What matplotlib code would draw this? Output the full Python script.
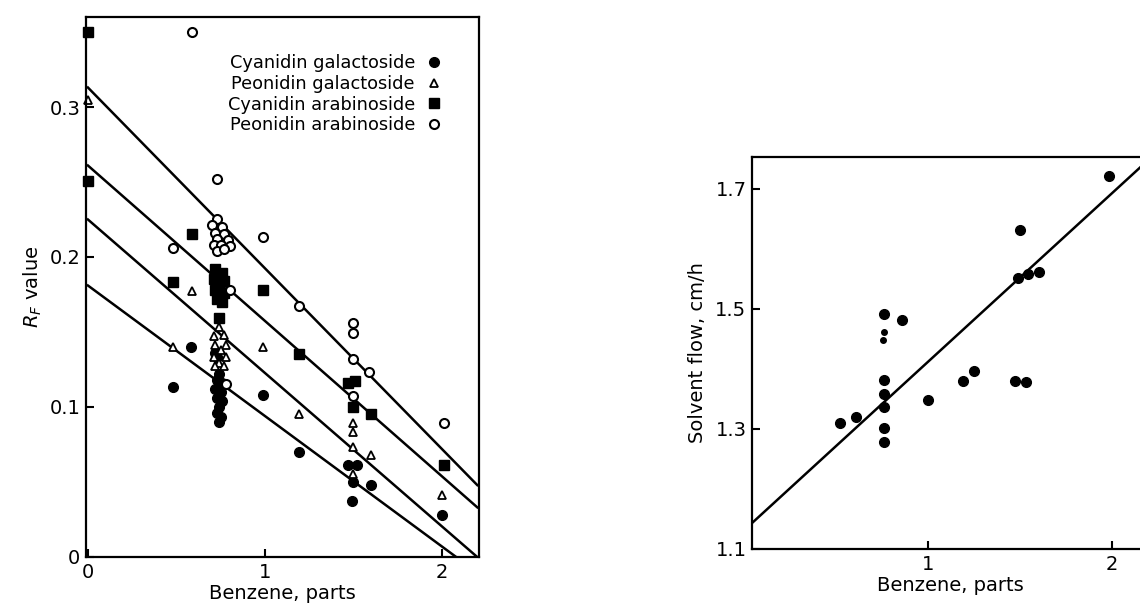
import matplotlib
matplotlib.use('Agg')
import matplotlib.pyplot as plt
import numpy as np

plt.rcParams['font.family'] = ['DejaVu Sans']

# ---- left panel: Rf values ----
cyan_gal_x = [0.58, 0.48, 0.99, 1.19, 1.47, 1.52, 1.50, 1.49, 1.60, 2.00,
              0.74, 0.73, 0.76, 0.72, 0.75, 0.73, 0.76, 0.74, 0.73, 0.75, 0.74, 0.72, 0.73]
cyan_gal_y = [0.140, 0.113, 0.108, 0.070, 0.061, 0.061, 0.050, 0.037, 0.048, 0.028,
              0.122, 0.118, 0.116, 0.112, 0.110, 0.106, 0.104, 0.100, 0.096, 0.093, 0.090, 0.136, 0.133]

peo_gal_x = [0.0, 0.48, 0.59, 0.99, 1.19, 1.50, 1.50, 1.50, 1.60, 1.50, 2.00,
             0.74, 0.71, 0.77, 0.72, 0.78, 0.75, 0.71, 0.78, 0.74, 0.77, 0.72]
peo_gal_y = [0.305, 0.140, 0.177, 0.140, 0.095, 0.089, 0.083, 0.073, 0.068, 0.055, 0.041,
             0.153, 0.147, 0.148, 0.141, 0.141, 0.138, 0.133, 0.133, 0.129, 0.127, 0.127]

cyan_ara_x = [0.0, 0.0, 0.59, 0.48, 0.99, 1.19, 1.47, 1.51, 1.50, 1.60, 2.01, 0.74,
              0.72, 0.76, 0.71, 0.77, 0.72, 0.77, 0.73, 0.76, 0.74]
cyan_ara_y = [0.350, 0.251, 0.215, 0.183, 0.178, 0.135, 0.116, 0.117, 0.100, 0.095, 0.061, 0.159,
              0.192, 0.189, 0.185, 0.184, 0.178, 0.176, 0.172, 0.170, 0.180]

peo_ara_x = [0.59, 0.73, 0.48, 0.99, 1.19, 1.50, 1.50, 1.50, 1.59, 1.50, 2.01, 0.80, 0.78,
             0.73, 0.70, 0.76, 0.72, 0.77, 0.73, 0.79, 0.71, 0.75, 0.80, 0.73, 0.77]
peo_ara_y = [0.350, 0.252, 0.206, 0.213, 0.167, 0.156, 0.149, 0.132, 0.123, 0.107, 0.089, 0.178, 0.115,
             0.225, 0.221, 0.220, 0.216, 0.215, 0.212, 0.211, 0.208, 0.208, 0.207, 0.204, 0.205]

# regression lines (intercept, slope), top to bottom
rf_intercepts = [0.313, 0.261, 0.225, 0.181]
rf_slopes = [-0.1205, -0.1036, -0.1023, -0.087]

# ---- right panel: solvent flow ----
flow_x = [0.52, 0.61, 0.76, 0.76, 0.76, 0.76, 0.76, 0.76, 0.86, 1.00, 1.19, 1.25,
          1.47, 1.53, 1.50, 1.49, 1.54, 1.60, 1.985]
flow_y = [1.310, 1.320, 1.491, 1.381, 1.359, 1.337, 1.301, 1.279, 1.482, 1.348, 1.380, 1.397,
          1.380, 1.378, 1.632, 1.551, 1.558, 1.561, 1.722]
flow_small_x = [0.76, 0.755]
flow_small_y = [1.462, 1.448]
flow_intercept = 1.131
flow_slope = 0.281

fig = plt.figure(figsize=(11.4, 6.03), dpi=100)

ax1 = fig.add_axes([0.0754, 0.0763, 0.3447, 0.8955])
xs = np.array([0.0, 2.2])
for b, m in zip(rf_intercepts, rf_slopes):
    ax1.plot(xs, b + m * xs, color='black', lw=1.8)
ax1.plot(cyan_gal_x, cyan_gal_y, 'o', color='black', ms=7, ls='none',
         label='Cyanidin galactoside', clip_on=False)
ax1.plot(peo_gal_x, peo_gal_y, '^', mfc='white', mec='black', mew=1.3, ms=5.5, ls='none',
         label='Peonidin galactoside', clip_on=False)
ax1.plot(cyan_ara_x, cyan_ara_y, 's', color='black', ms=6.5, ls='none',
         label='Cyanidin arabinoside', clip_on=False)
ax1.plot(peo_ara_x, peo_ara_y, 'o', mfc='white', mec='black', mew=1.5, ms=6.5, ls='none',
         label='Peonidin arabinoside', clip_on=False)
ax1.set_xlim(-0.011, 2.209)
ax1.set_ylim(0, 0.36)
ax1.set_xticks([0, 1, 2])
ax1.set_xticklabels(['0', '1', '2'])
ax1.set_yticks([0, 0.1, 0.2, 0.3])
ax1.set_yticklabels(['0', '0.1', '0.2', '0.3'])
ax1.tick_params(direction='in', length=6, width=1.5, labelsize=14, pad=4)
ax1.set_xlabel('Benzene, parts', fontsize=14, labelpad=2)
ax1.set_ylabel(r'$R_F$ value', fontsize=14, labelpad=4)
for s in ax1.spines.values():
    s.set_linewidth(1.6)
ax1.legend(loc='upper right', markerfirst=False, frameon=False, fontsize=12.8,
           handletextpad=0.7, labelspacing=0.15, borderaxespad=1.9, handlelength=0.8,
           borderpad=0.2)

ax2 = fig.add_axes([0.6596, 0.0896, 0.3483, 0.6500])
xs2 = np.array([0.0, 2.3])
ax2.plot(xs2, flow_intercept + flow_slope * xs2, color='black', lw=1.8)
ax2.plot(flow_x, flow_y, 'o', color='black', ms=7, ls='none')
ax2.plot(flow_small_x, flow_small_y, 'o', color='black', ms=4, ls='none')
ax2.set_xlim(0.043, 2.2)
ax2.set_ylim(1.1, 1.753)
ax2.set_xticks([1, 2])
ax2.set_xticklabels(['1', '2'])
ax2.set_yticks([1.1, 1.3, 1.5, 1.7])
ax2.set_yticklabels(['1.1', '1.3', '1.5', '1.7'])
ax2.tick_params(direction='in', length=6, width=1.5, labelsize=14, pad=4)
ax2.set_xlabel('Benzene, parts', fontsize=14, labelpad=2)
ax2.set_ylabel('Solvent flow, cm/h', fontsize=14, labelpad=6)
for s in ax2.spines.values():
    s.set_linewidth(1.6)

fig.savefig('out.png', dpi=100)
